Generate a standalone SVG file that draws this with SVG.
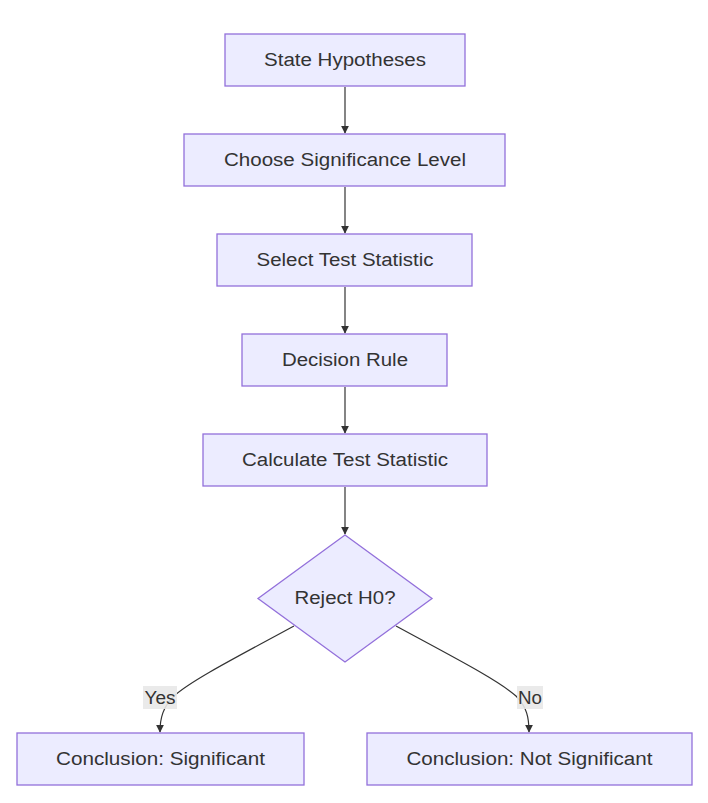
<svg xmlns="http://www.w3.org/2000/svg" width="708" height="803" viewBox="0 0 708 803">
<style>
.node rect,.node polygon{fill:#ECECFF;stroke:#9370DB;stroke-width:1.3}
.node text{font-family:"Liberation Sans",Arial,sans-serif;font-size:18px;fill:#333;text-anchor:middle;dominant-baseline:central}
.edge{fill:none;stroke:#333;stroke-width:1.2}
.lbl rect{fill:#E8E8E8;opacity:0.9}
.lbl text{font-family:"Liberation Sans",Arial,sans-serif;font-size:18px;fill:#333;text-anchor:middle;dominant-baseline:central}
</style>
<defs>
<marker id="arr" viewBox="0 0 10 10" refX="9" refY="5" markerWidth="8" markerHeight="8" markerUnits="userSpaceOnUse" orient="auto">
<path d="M0,0 L10,5 L0,10 z" fill="#333"/>
</marker>
</defs>
<rect width="708" height="803" fill="#fff"/>
<g id="connectors">
<path class="edge" d="M345,87 V133" marker-end="url(#arr)"/>
<path class="edge" d="M345,187 V233" marker-end="url(#arr)"/>
<path class="edge" d="M345,287 V333" marker-end="url(#arr)"/>
<path class="edge" d="M345,387 V433" marker-end="url(#arr)"/>
<path class="edge" d="M345,487 V534" marker-end="url(#arr)"/>
<path class="edge" d="M294,626 C235,658 192,680 174,696 C163,707 160,718 160,732" marker-end="url(#arr)"/>
<path class="edge" d="M396,626 C455,658 498,680 516,696 C527,707 529,718 529,732" marker-end="url(#arr)"/>
<g class="lbl"><rect x="143" y="686" width="34" height="23"/><text x="160" y="697.5" textLength="31" lengthAdjust="spacingAndGlyphs">Yes</text></g>
<g class="lbl"><rect x="517" y="686" width="26" height="23"/><text x="530" y="697.5" textLength="24" lengthAdjust="spacingAndGlyphs">No</text></g>
</g>
<g id="n1" class="node"><rect x="225" y="34" width="240" height="52"/><text x="345" y="60" textLength="162" lengthAdjust="spacingAndGlyphs">State Hypotheses</text></g>
<g id="n2" class="node"><rect x="184" y="134" width="321" height="52"/><text x="345" y="160" textLength="242" lengthAdjust="spacingAndGlyphs">Choose Significance Level</text></g>
<g id="n3" class="node"><rect x="217" y="234" width="255" height="52"/><text x="345" y="260" textLength="177" lengthAdjust="spacingAndGlyphs">Select Test Statistic</text></g>
<g id="n4" class="node"><rect x="242" y="334" width="205" height="52"/><text x="345" y="360" textLength="126" lengthAdjust="spacingAndGlyphs">Decision Rule</text></g>
<g id="n5" class="node"><rect x="203" y="434" width="284" height="52"/><text x="345" y="460" textLength="206" lengthAdjust="spacingAndGlyphs">Calculate Test Statistic</text></g>
<g id="n6" class="node"><polygon points="345,535 432,598.5 345,662 258,598.5"/><text x="345" y="598" textLength="101" lengthAdjust="spacingAndGlyphs">Reject H0?</text></g>
<g id="n7" class="node"><rect x="17" y="733" width="287" height="52"/><text x="160.5" y="759" textLength="209" lengthAdjust="spacingAndGlyphs">Conclusion: Significant</text></g>
<g id="n8" class="node"><rect x="367" y="733" width="325" height="52"/><text x="529.5" y="759" textLength="246" lengthAdjust="spacingAndGlyphs">Conclusion: Not Significant</text></g>
</svg>
